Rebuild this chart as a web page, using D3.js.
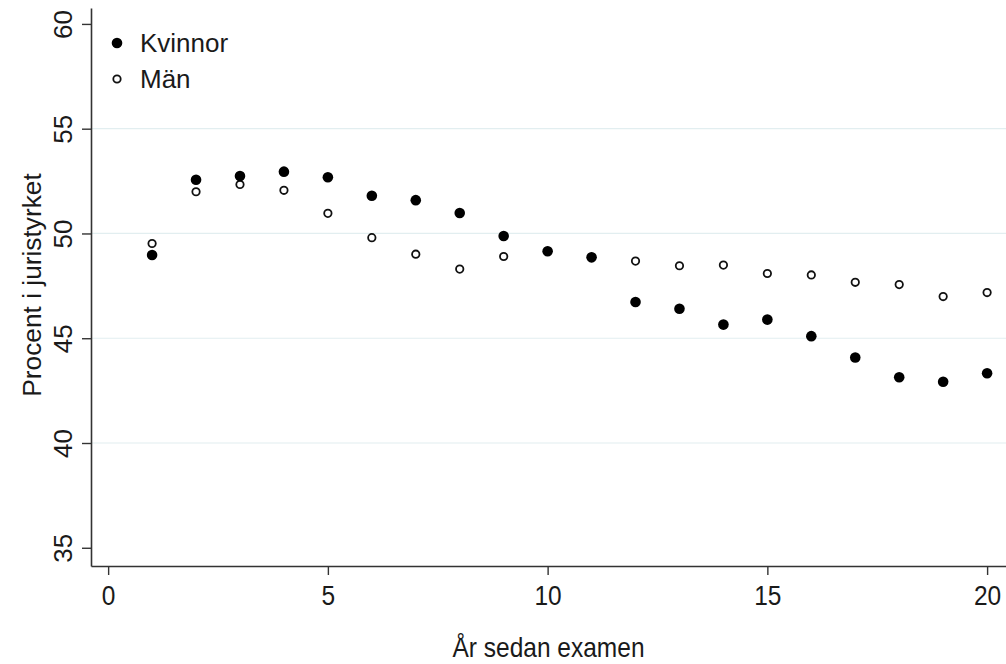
<!DOCTYPE html>
<html>
<head>
<meta charset="utf-8">
<script src="https://cdn.jsdelivr.net/npm/d3@7"></script>
<style>
  html, body { margin: 0; padding: 0; background: #fff; }
  text { font-family: "Liberation Sans", Arial, sans-serif; fill: #1a1a1a; }
</style>
</head>
<body>
<svg id="chart" width="1006" height="664"></svg>
<script>
const years = [1,2,3,4,5,6,7,8,9,10,11,12,13,14,15,16,17,18,19,20];
const kvinnor = [48.97,52.56,52.74,52.95,52.68,51.80,51.59,50.98,49.88,49.15,48.86,46.73,46.41,45.65,45.89,45.10,44.08,43.14,42.92,43.33];
const man = [49.52,51.99,52.34,52.06,50.96,49.80,49.01,48.30,48.90,49.15,48.86,48.68,48.46,48.49,48.09,48.02,47.67,47.56,46.99,47.18];
const xTicks = [0,5,10,15,20];
const yTicks = [35,40,45,50,55,60];
const gridValues = [40,45,50,55];
const seriesNames = ["Kvinnor","Män"];
const xTitle = "År sedan examen";
const yTitle = "Procent i juristyrket";

const svg = d3.select("#chart");
const x = d3.scaleLinear().domain([-0.39, 20.43]).range([91, 1006]);
const y = d3.scaleLinear().domain([34.13, 60.76]).range([566, 8]);

// gridlines
svg.append("g").selectAll("line").data(gridValues).join("line")
  .attr("x1", x.range()[0]).attr("x2", x.range()[1])
  .attr("y1", d => y(d)).attr("y2", d => y(d))
  .attr("stroke", "#e2eef0").attr("stroke-width", 1.2);

// x axis
const xAxis = svg.append("g").attr("transform", `translate(0,${y.range()[0]})`)
  .call(d3.axisBottom(x).tickValues(xTicks).tickSize(9).tickSizeOuter(0));
xAxis.select(".domain").attr("stroke", "#333").attr("stroke-width", 1.6);
xAxis.selectAll(".tick line").attr("stroke", "#333").attr("stroke-width", 1.4);
xAxis.selectAll(".tick text")
  .attr("y", null).attr("dy", null)
  .attr("transform", "translate(0,39) scale(1,1.1)")
  .attr("font-size", 24.5).attr("fill", "#1a1a1a")
  .style("font-family", "'Liberation Sans', Arial, sans-serif");

// y axis
const yAxis = svg.append("g").attr("transform", `translate(${x.range()[0]},0)`)
  .call(d3.axisLeft(y).tickValues(yTicks).tickSize(9).tickSizeOuter(0));
yAxis.select(".domain").attr("stroke", "#333").attr("stroke-width", 1.6);
yAxis.selectAll(".tick line").attr("stroke", "#333").attr("stroke-width", 1.4);
yAxis.selectAll(".tick text")
  .attr("x", null).attr("dy", null).attr("y", null)
  .attr("text-anchor", "middle")
  .attr("transform", "translate(-19,0) rotate(-90)")
  .attr("font-size", 26).attr("fill", "#1a1a1a")
  .style("font-family", "'Liberation Sans', Arial, sans-serif");

// titles
svg.append("text")
  .attr("transform", `translate(${(x.range()[0] + x.range()[1]) / 2},657) scale(1,1.1)`)
  .attr("text-anchor", "middle").attr("font-size", 24.5).text(xTitle);
svg.append("text").attr("transform", `translate(41,285) rotate(-90)`)
  .attr("text-anchor", "middle").attr("font-size", 26.3).text(yTitle);

// points
svg.append("g").selectAll("circle").data(years.map((d, i) => [d, man[i]])).join("circle")
  .attr("cx", d => x(d[0])).attr("cy", d => y(d[1])).attr("r", 3.7)
  .attr("fill", "none").attr("stroke", "#111").attr("stroke-width", 1.8);
svg.append("g").selectAll("circle").data(years.map((d, i) => [d, kvinnor[i]])).join("circle")
  .attr("cx", d => x(d[0])).attr("cy", d => y(d[1])).attr("r", 5.3)
  .attr("fill", "#000");

// legend
const leg = svg.append("g");
leg.append("circle").attr("cx", 117).attr("cy", 43).attr("r", 5.3).attr("fill", "#000");
leg.append("text").attr("x", 140).attr("y", 52).attr("font-size", 26).text(seriesNames[0]);
leg.append("circle").attr("cx", 117).attr("cy", 79).attr("r", 3.7).attr("fill", "none")
  .attr("stroke", "#111").attr("stroke-width", 1.8);
leg.append("text").attr("x", 140).attr("y", 88).attr("font-size", 26).text(seriesNames[1]);
</script>
</body>
</html>
